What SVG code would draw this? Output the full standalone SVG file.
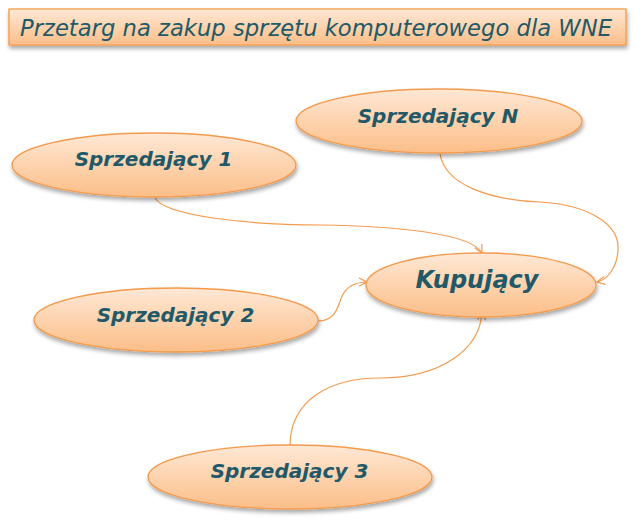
<svg xmlns="http://www.w3.org/2000/svg" width="638" height="521" viewBox="0 0 638 521">
<defs>
<linearGradient id="g" x1="0" y1="0" x2="0" y2="1">
<stop offset="0" stop-color="#FEE8D6"/>
<stop offset="0.5" stop-color="#FDD3AE"/>
<stop offset="1" stop-color="#FBBE88"/>
</linearGradient>
<filter id="sh" x="-10%" y="-20%" width="120%" height="150%">
<feGaussianBlur in="SourceAlpha" stdDeviation="2"/>
<feOffset dx="1" dy="3" result="b"/>
<feComponentTransfer><feFuncA type="linear" slope="0.35"/></feComponentTransfer>
<feMerge><feMergeNode/><feMergeNode in="SourceGraphic"/></feMerge>
</filter>
<marker id="arr" viewBox="0 0 10 10" refX="9" refY="5" markerWidth="10" markerHeight="10" markerUnits="userSpaceOnUse" orient="auto">
<path d="M1,1 L9,5 L1,9" fill="none" stroke="#F09A52" stroke-width="1.2"/>
</marker>
</defs>
<style>
.node{fill:url(#g);stroke:#F39B4E;stroke-width:1.3;filter:url(#sh)}
.lbl{font-family:"DejaVu Sans",Verdana,sans-serif;font-weight:bold;font-style:italic;fill:#215968;text-anchor:middle}
.con{fill:none;stroke:#F39B4E;stroke-width:1.2;marker-end:url(#arr)}
</style>
<g id="title">
<rect x="9" y="9" width="617" height="36" class="node"/>
<text x="20" y="36" font-family="DejaVu Sans,Verdana,sans-serif" font-style="italic" font-size="23" fill="#215968" textLength="592" lengthAdjust="spacingAndGlyphs">Przetarg na zakup sprzętu komputerowego dla WNE</text>
</g>
<g id="connectors">
<path class="con" d="M155,198 C165,216 250,225 320,225 C400,226 472,234 482,253"/>
<path class="con" d="M440,154 C445,185 490,200 540,202 C590,205 620,225 618,250 C617,268 607,280 597,282"/>
<path class="con" d="M318,321 C336,321 338,306 342,296 C347,286 356,282 367,282"/>
<path class="con" d="M290,446 C290,400 330,378 380,378 C440,378 480,350 482,312"/>
</g>
<g id="sN">
<ellipse cx="439" cy="121" rx="143" ry="32" class="node"/>
<text x="438" y="123" class="lbl" font-size="20">Sprzedający N</text>
</g>
<g id="s1">
<ellipse cx="154" cy="165" rx="142" ry="32" class="node"/>
<text x="153.5" y="166" class="lbl" font-size="20">Sprzedający  1</text>
</g>
<g id="kup">
<ellipse cx="481" cy="285" rx="115" ry="32" class="node"/>
<text x="477" y="288" class="lbl" font-size="24">Kupujący</text>
</g>
<g id="s2">
<ellipse cx="176" cy="320" rx="142" ry="32" class="node"/>
<text x="175.5" y="322" class="lbl" font-size="20">Sprzedający  2</text>
</g>
<g id="s3">
<ellipse cx="290" cy="477" rx="142" ry="32" class="node"/>
<text x="289.5" y="478" class="lbl" font-size="20">Sprzedający 3</text>
</g>
</svg>
